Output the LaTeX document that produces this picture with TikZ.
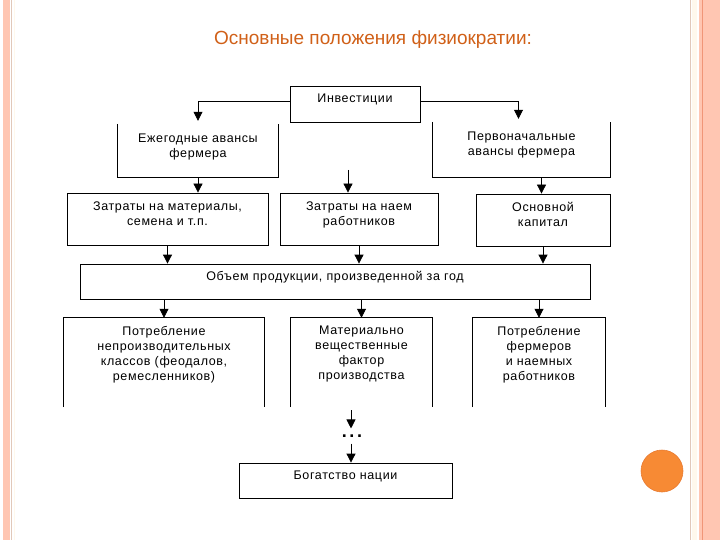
\documentclass[tikz,border=0pt]{standalone}
\usepackage{fontspec}
\setmainfont{Liberation Sans}
\usepackage{tikz}
\usetikzlibrary{arrows.meta,positioning}

\definecolor{salmon}{RGB}{255,198,178}
\definecolor{salmonline}{RGB}{240,150,120}
\definecolor{tanline}{RGB}{225,200,185}
\definecolor{cream}{RGB}{255,248,236}
\definecolor{titlecol}{RGB}{208,96,24}
\definecolor{dotfill}{RGB}{247,138,52}
\definecolor{dotline}{RGB}{232,122,48}

\begin{document}
\begin{tikzpicture}[x=1pt,y=-1pt,
		box/.style={draw=black, line width=0.8pt, rectangle, inner sep=0pt},
		hollow/.style={rectangle, inner sep=0pt},
		side/.style={draw=black, line width=0.8pt},
		txt/.style={inner sep=0pt, align=center, font=\fontsize{12.5}{15}\selectfont\addfontfeature{LetterSpace=5}},
		arr/.style={line width=0.8pt, -{Triangle[width=9pt,length=9pt]}}]
	\useasboundingbox (0,0) rectangle (720,540);
	
	% Slide frame
	\fill[salmon] (3,0) rectangle (9.5,540);
	\draw[tanline, line width=0.6pt] (11.5,0) -- (11.5,540);
	\draw[cream, line width=1.2pt] (14.5,0) -- (14.5,540);
	\draw[tanline, line width=1pt] (690,0) -- (690,540);
	\fill[cream] (692,0) rectangle (697,540);
	\fill[salmon] (699,0) rectangle (720,540);
	\draw[salmonline, line width=1pt] (702,0) -- (702,540);
	\fill[dotfill, draw=dotline, line width=0.6pt] (662,471) circle (21);
	
	% Title
	\node[inner sep=0pt, text=titlecol, font=\fontsize{19}{22}\selectfont] (title) at (373,40) {Основные положения физиократии:};
	
	% Row 1
	\node[box, minimum width=130, minimum height=36] (inv) at (355,104) {};
	\node[txt, below=8pt of inv.north] (inv-t) {Инвестиции};
	
	% Row 2 (open on top)
	\node[hollow, minimum width=160, minimum height=53] (annual) at (198,150.5) {};
	\draw[side] (annual.north west) |- (annual.south east) -- (annual.north east);
	\node[txt, below=10pt of annual.north] (annual-t) {Ежегодные авансы\\фермера};
	\node[hollow, minimum width=177, minimum height=55] (initial) at (521.5,149.5) {};
	\draw[side] (initial.north west) |- (initial.south east) -- (initial.north east);
	\node[txt, below=10pt of initial.north] (initial-t) {Первоначальные\\авансы фермера};
	
	% Row 3
	\node[box, minimum width=201, minimum height=52] (matcost) at (167.5,219) {};
	\node[txt, below=9pt of matcost.north] (matcost-t) {Затраты на материалы,\\семена и т.п.};
	\node[box, minimum width=158, minimum height=52] (labcost) at (359,219) {};
	\node[txt, below=9pt of labcost.north] (labcost-t) {Затраты на наем\\работников};
	\node[box, minimum width=134, minimum height=52] (fixcap) at (543,220) {};
	\node[txt, below=8pt of fixcap.north] (fixcap-t) {Основной\\капитал};
	
	% Row 4
	\node[box, minimum width=510, minimum height=35] (output) at (335,281.5) {};
	\node[txt, below=7pt of output.north] (output-t) {Объем продукции, произведенной за год};
	
	% Row 5 (open at the bottom)
	\node[hollow, minimum width=200, minimum height=89] (consNP) at (164,362.5) {};
	\draw[side] (consNP.south west) |- (consNP.north east) -- (consNP.south east);
	\node[txt, below=8pt of consNP.north] (consNP-t) {Потребление\\непроизводительных\\классов (феодалов,\\ремесленников)};
	\node[hollow, minimum width=141, minimum height=89] (matfac) at (361.5,362.5) {};
	\draw[side] (matfac.south west) |- (matfac.north east) -- (matfac.south east);
	\node[txt, below=8pt of matfac.north] (matfac-t) {Материально\\вещественные\\фактор\\производства};
	\node[hollow, minimum width=132, minimum height=89] (consF) at (539,362.5) {};
	\draw[side] (consF.south west) |- (consF.north east) -- (consF.south east);
	\node[txt, below=8pt of consF.north] (consF-t) {Потребление\\фермеров\\и наемных\\работников};
	
	% Result
	\coordinate (tail) at (351,410);
	\node[inner sep=0pt, font=\fontsize{18}{18}\bfseries\addfontfeature{LetterSpace=15}] (dots) at (352,436) {...};
	\node[box, minimum width=213, minimum height=35] (wealth) at (345.5,480.5) {};
	\node[txt, below=8pt of wealth.north] (wealth-t) {Богатство нации};
	
	% Arrows
	\draw[arr] ([yshift=3pt]inv.west) -| ([yshift=3pt]annual.north);
	\draw[arr] ([yshift=3pt]inv.east) -| ([yshift=3pt,xshift=-3pt]initial.north);
	\draw[arr] (annual.south) -- (annual.south |- matcost.north);
	\coordinate (free) at (348,170);
	\draw[arr] (free) -- (free |- labcost.north);
	\draw[arr] ([xshift=20pt]initial.south) -- ([xshift=20pt]initial.south |- fixcap.north);
	\foreach \b in {matcost,labcost,fixcap}
		\draw[arr] (\b.south) -- (\b.south |- output.north);
	\foreach \b in {consNP,matfac,consF}
		\draw[arr] (output.south -| \b.north) -- (\b.north);
	\draw[arr] (tail) -- ([yshift=6pt]dots.north -| tail);
	\draw[arr] ([yshift=-6pt]dots.south -| tail) -- (tail |- wealth.north);
\end{tikzpicture}
\end{document}
